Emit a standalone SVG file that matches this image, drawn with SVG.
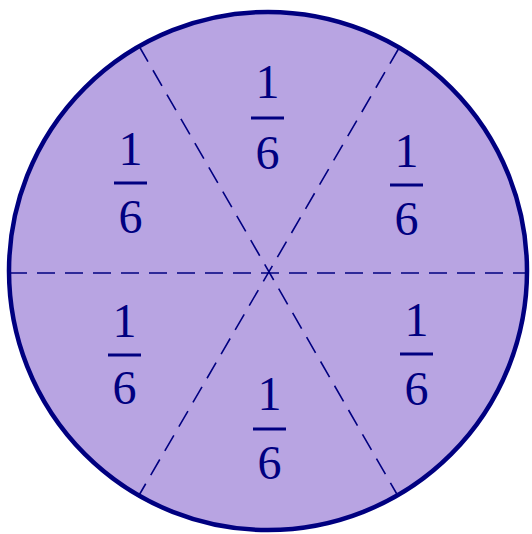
<svg xmlns="http://www.w3.org/2000/svg" width="532" height="534" viewBox="0 0 532 534">
<style>
.disc{fill:#b8a4e2;stroke:#000080;stroke-width:4.5}
.cut{stroke:#000080;stroke-width:1.6;stroke-dasharray:18 10;fill:none}
.num{font-family:"Liberation Serif","DejaVu Serif",serif;font-size:48px;fill:#000080;text-anchor:middle}
.bar{stroke:#000080;stroke-width:3}
</style>
<rect width="532" height="534" fill="#ffffff"/>
<g id="circle"><circle class="disc" cx="268" cy="271" r="259"/></g>
<g id="connectors">
<line class="cut" x1="9" y1="273" x2="529" y2="273"/>
<line class="cut" x1="139" y1="46" x2="398" y2="496"/>
<line class="cut" x1="399" y1="48" x2="138" y2="497"/>
</g>
<g id="frac-top"><text class="num" x="267.5" y="98">1</text><line class="bar" x1="251" y1="118" x2="284" y2="118"/><text class="num" x="267.5" y="169">6</text></g>
<g id="frac-top-left"><text class="num" x="130.5" y="165">1</text><line class="bar" x1="114" y1="183" x2="147" y2="183"/><text class="num" x="130.5" y="233">6</text></g>
<g id="frac-top-right"><text class="num" x="406.5" y="167">1</text><line class="bar" x1="390" y1="185" x2="423" y2="185"/><text class="num" x="406.5" y="235">6</text></g>
<g id="frac-bottom-left"><text class="num" x="124.5" y="337">1</text><line class="bar" x1="108" y1="355" x2="141" y2="355"/><text class="num" x="124.5" y="404">6</text></g>
<g id="frac-bottom-right"><text class="num" x="416.5" y="336">1</text><line class="bar" x1="400" y1="354" x2="433" y2="354"/><text class="num" x="416.5" y="405">6</text></g>
<g id="frac-bottom"><text class="num" x="269.5" y="410">1</text><line class="bar" x1="253" y1="429" x2="286" y2="429"/><text class="num" x="269.5" y="479">6</text></g>
</svg>
